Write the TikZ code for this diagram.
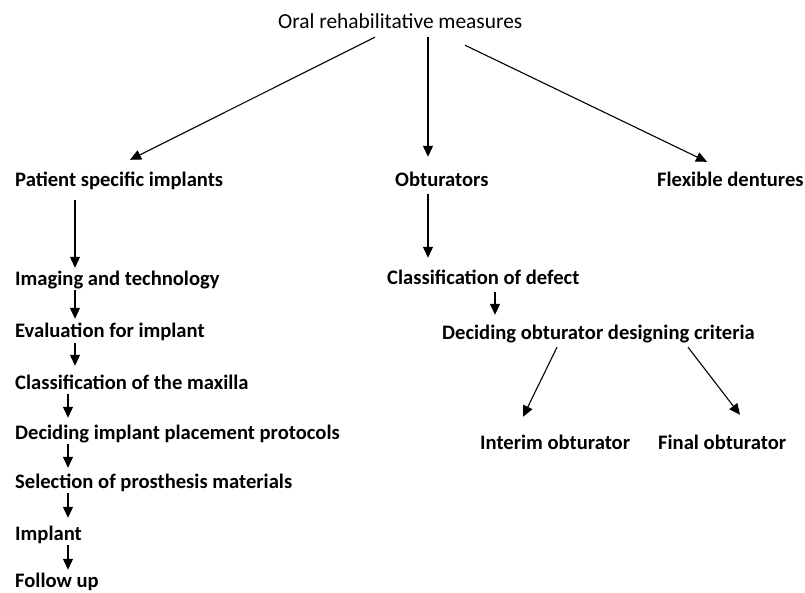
\documentclass[tikz,border=0pt]{standalone}
\usepackage{fontspec}
\setmainfont{Carlito}
\usetikzlibrary{arrows.meta,calc}

\begin{document}
\begin{tikzpicture}[
    x=1pt, y=-1pt,
    item/.style={
        anchor=west,
        inner sep=0pt,
        text height=15pt,
        text depth=1pt,
        font=\fontsize{20.6}{24}\selectfont\bfseries
    },
    rootitem/.style={
        item,
        font=\fontsize{21.4}{25}\selectfont
    },
    flowarrow/.style={line width=1.1pt,-{Triangle[length=11pt,width=10pt]}}
]
\useasboundingbox (0,0) rectangle (805,593);
\node (oral) [rootitem] at (278,22) {Oral rehabilitative measures};
\node (patient) [item] at (15,180) {Patient specific implants};
\node (obt) [item] at (395,180) {Obturators};
\node (flex) [item] at (657,180) {Flexible dentures};
% patient specific implants branch
\node (imaging) [item] at (15,279) {Imaging and technology};
\node (evaluation) [item] at (15,330) {Evaluation for implant};
\node (maxilla) [item] at (15,382) {Classification of the maxilla};
\node (protocols) [item] at (15,432) {Deciding implant placement protocols};
\node (materials) [item] at (15,481) {Selection of prosthesis materials};
\node (implant) [item] at (15,533) {Implant};
\node (followup) [item] at (15,580) {Follow up};
% obturator branch
\node (defect) [item] at (387,278) {Classification of defect};
\node (criteria) [item] at (442,332) {Deciding obturator designing criteria};
\node (interim) [item] at (480,442) {Interim obturator};
\node (final) [item] at (658,442) {Final obturator};
\draw [flowarrow] ($(oral.south west)+(97,7)$) -- ($(patient.north west)+(115,-12)$);
\draw [flowarrow] ($(oral.south west)+(150,7)$) -- ($(obt.north west)+(33,-15)$);
\draw [flowarrow] ($(oral.south west)+(187,15)$) -- ($(flex.north west)+(50,-10)$);
\draw [flowarrow] ($(patient.south west)+(60,12)$) -- ($(imaging.north west)+(60,-3)$);
\draw [flowarrow] ($(imaging.south west)+(60,3)$) -- ($(evaluation.north west)+(60,-3)$);
\draw [flowarrow] ($(evaluation.south west)+(60,5)$) -- ($(maxilla.north west)+(60,-8)$);
\draw [flowarrow] ($(maxilla.south west)+(53,4)$) -- ($(protocols.north west)+(53,-6)$);
\draw [flowarrow] ($(protocols.south west)+(53,4)$) -- ($(materials.north west)+(53,-5)$);
\draw [flowarrow] ($(materials.south west)+(53,4)$) -- ($(implant.north west)+(53,-7)$);
\draw [flowarrow] ($(implant.south west)+(53,4)$) -- ($(followup.north west)+(53,-2)$);
\draw [flowarrow] ($(obt.south west)+(33,6)$) -- ($(defect.north west)+(41,-12)$);
\draw [flowarrow] ($(defect.south west)+(108,6)$) -- ($(criteria.north west)+(53,-9)$);
\draw [flowarrow] ($(criteria.south west)+(115,7)$) -- ($(interim.north west)+(43,-17)$);
\draw [flowarrow] ($(criteria.south west)+(246,7)$) -- ($(final.north west)+(82,-19)$);
\end{tikzpicture}
\end{document}
